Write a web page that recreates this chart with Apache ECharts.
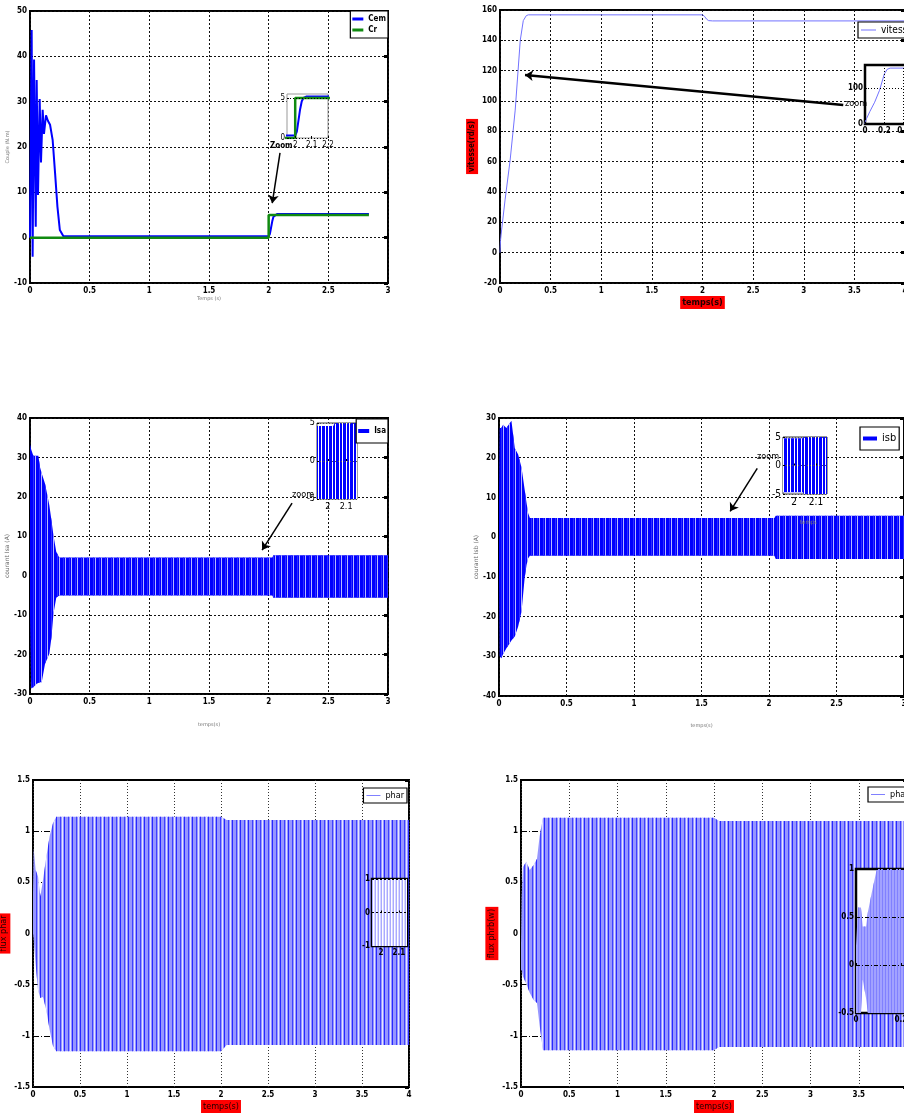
<!DOCTYPE html>
<html>
<head>
<meta charset="utf-8">
<script src="https://cdn.jsdelivr.net/npm/echarts@6/dist/echarts.min.js"></script>
<style>
  html, body { margin: 0; padding: 0; background: #fff; }
  #chart { width: 904px; height: 1120px; }
</style>
</head>
<body>
<div id="chart"></div>
<script>
// ---------- data ----------
// couple (N.m)
const cemT = [0, 0.014, 0.022, 0.034, 0.048, 0.056, 0.067, 0.081, 0.092, 0.106, 0.117, 0.134, 0.15, 0.168, 0.19, 0.21, 0.23, 0.25, 0.28, 2.0, 2.01, 2.02, 2.03, 2.04, 2.05, 2.07, 2.84];
const cemV = [0, 45.8, -4.2, 39.3, 2.4, 34.8, 9.4, 30.6, 16.6, 28.2, 22.9, 27, 25.8, 24.9, 21.5, 14.3, 6.8, 1.7, 0.3, 0.3, 0.8, 2.2, 3.6, 4.6, 5.0, 5.2, 5.2];
const crT = [0, 2.0, 2.0, 2.84];
const crV = [0, 0, 5, 5];
// vitesse (rd/s)
const vitT = [0, 0.005, 0.016, 0.05, 0.1, 0.15, 0.2, 0.23, 0.26, 0.28, 2.0, 2.02, 2.04, 2.06, 2.1, 4.0];
const vitV = [0, 8, 15, 34.8, 61, 94, 140, 153, 156.3, 156.8, 156.8, 155.8, 154, 153, 152.8, 152.8];
// courant Isa : envelope of the oscillation
const isaT  = [0, 0.01, 0.028, 0.056, 0.07, 0.084, 0.098, 0.126, 0.145, 0.162, 0.18, 0.196, 0.22, 0.245, 2.03, 2.04, 3.0];
const isaHi = [33.4, 32, 30.4, 30.4, 30.4, 27.5, 26, 23.3, 20.5, 17.9, 14, 10.3, 6.1, 4.6, 4.6, 5.2, 5.2];
const isaLo = [-10, -28.6, -28.3, -27.4, -27.2, -27, -27, -22.3, -21, -19.8, -15.6, -9.8, -5.6, -5.0, -5.0, -5.6, -5.6];
// courant Isb : envelope
const isbT  = [0, 0.005, 0.017, 0.03, 0.055, 0.075, 0.092, 0.117, 0.142, 0.167, 0.19, 0.204, 0.216, 0.229, 2.04, 2.05, 3.0];
const isbHi = [10, 27.5, 27.5, 28.3, 27.5, 28.5, 29.3, 22.4, 20.8, 17.5, 12, 8.6, 6, 4.8, 4.8, 5.4, 5.4];
const isbLo = [-10, -30, -30.5, -29.5, -28, -27, -26, -25, -22.5, -18.7, -10.3, -7, -5.3, -4.7, -4.7, -5.5, -5.5];
// flux phar : envelope
const pharT  = [0, 0.007, 0.028, 0.053, 0.078, 0.106, 0.142, 0.177, 0.213, 0.248, 2.0, 2.06, 4.0];
const pharHi = [0.4, 0.83, 0.62, 0.56, 0.36, 0.52, 0.75, 0.95, 1.08, 1.14, 1.14, 1.11, 1.11];
const pharLo = [0, -0.05, -0.3, -0.55, -0.63, -0.62, -0.75, -0.94, -1.1, -1.15, -1.15, -1.09, -1.09];
// flux phab : envelope
const phabT  = [0, 0.007, 0.02, 0.055, 0.09, 0.131, 0.166, 0.193, 0.228, 2.0, 2.05, 4.0];
const phabHi = [-0.1, 0.36, 0.65, 0.7, 0.62, 0.67, 0.73, 0.95, 1.13, 1.13, 1.1, 1.1];
const phabLo = [-0.36, -0.36, -0.42, -0.49, -0.58, -0.65, -0.68, -0.9, -1.14, -1.14, -1.11, -1.11];
// phab zoom inset
const phabZoomT  = [0, 0.009, 0.022, 0.03, 0.045, 0.053, 0.07, 0.093, 0.25];
const phabZoomHi = [0.2, 0.6, 0.6, 0.4, 0.4, 0.55, 0.75, 1.0, 1.05];
const phabZoomLo = [-0.5, -0.5, -0.5, -0.15, -0.35, -0.5, -0.5, -0.5, -0.5];

// ---------- helpers ----------
const fam = "'Liberation Sans Narrow','DejaVu Sans Condensed','Liberation Sans',sans-serif";
const chart = echarts.init(document.getElementById('chart'));

function pts(t, v) { return t.map((x, i) => [x, v[i]]); }

// vertical stripes laid over a solid fill, stand for the dense 50 Hz oscillation
const T = 'rgba(0,0,0,0)';
function stripes(cols) {
  const c = document.createElement('canvas');
  c.width = cols.length; c.height = 4;
  const ctx = c.getContext('2d');
  cols.forEach((col, i) => { if (col !== T) { ctx.fillStyle = col; ctx.fillRect(i, 0, 1, 4); } });
  return { image: c, repeat: 'repeat' };
}
const isPat = stripes([T, T, T, '#3030ff', T, '#b8b8ff']);
const isZoomPat = stripes([T, T, T, '#ffffff', T, T, '#ffffff']);
const fluxPat = stripes(['#2828ff', T, T, T, '#4040ff', T, '#e4e4ff', T]);
const fluxZoomPat = stripes([T, '#ffffff', '#d8d8ff']);
const phabZoomPat = stripes(['#8080ff', T, T]);

function band(name, gi, t, lo, hi, base, pat, color, z) {
  const rows = t.map((x, i) => [x, lo[i], hi[i]]);
  return {
    type: 'custom', name, xAxisIndex: gi, yAxisIndex: gi, clip: true, silent: true, z: z || 2,
    itemStyle: { color }, encode: { x: 0, y: [1, 2] }, data: rows,
    renderItem: (params, api) => {
      if (params.dataIndex !== 0) return null;
      const up = rows.map(r => api.coord([r[0], r[2]]));
      const dn = rows.map(r => api.coord([r[0], r[1]])).reverse();
      const poly = up.concat(dn);
      return {
        type: 'group',
        children: [
          { type: 'polygon', shape: { points: poly }, style: { fill: base } },
          { type: 'polygon', shape: { points: poly }, style: { fill: pat } }
        ]
      };
    }
  };
}

function arrow(gi, from, to, w) {
  return {
    type: 'line', xAxisIndex: gi, yAxisIndex: gi, data: [], silent: true, z: 6,
    markLine: {
      silent: true, animation: false, symbol: ['none', 'arrow'], symbolSize: 8,
      label: { show: false }, lineStyle: { color: '#000', width: w, type: 'solid' },
      data: [[{ coord: from }, { coord: to }]]
    }
  };
}

const dotted = { show: true, lineStyle: { color: '#111', width: 1, type: [2, 2] } };
const dashDot = { show: true, lineStyle: { color: '#000', width: 1, type: [6, 2, 1, 2] } };
const tick = { fontFamily: fam, fontSize: 8, fontWeight: 'bold', color: '#000' };

function mainGrid(l, t, w, h) {
  return { left: l, top: t, width: w, height: h, outerBoundsMode: 'none', show: true, borderColor: '#000', borderWidth: 2, backgroundColor: '#fff' };
}
function insetGrid(l, t, w, h, bw, bc) {
  return { left: l, top: t, width: w, height: h, outerBoundsMode: 'none', show: true, borderColor: bc || '#000', borderWidth: bw, backgroundColor: '#fff', z: 20 };
}
function mainX(gi, max, split, name, nameStyle, gap) {
  return {
    type: 'value', gridIndex: gi, min: 0, max, interval: 0.5,
    axisLine: { show: false }, axisTick: { inside: true, length: 3, lineStyle: { color: '#000' } },
    axisLabel: Object.assign({ margin: 4 }, tick), splitLine: split,
    name, nameLocation: 'middle', nameGap: gap, nameTextStyle: nameStyle
  };
}
function mainY(gi, min, max, iv, split, name, nameStyle, gap) {
  return {
    type: 'value', gridIndex: gi, min, max, interval: iv,
    axisLine: { show: false }, axisTick: { inside: true, length: 3, lineStyle: { color: '#000' } },
    axisLabel: Object.assign({ margin: 3 }, tick), splitLine: split,
    name, nameLocation: 'middle', nameGap: gap, nameTextStyle: nameStyle
  };
}
function rightTicks(gi, min, max, iv) {
  return {
    type: 'value', gridIndex: gi, position: 'right', min, max, interval: iv,
    axisLine: { show: false }, axisLabel: { show: false }, splitLine: { show: false },
    axisTick: { inside: true, length: 4, lineStyle: { color: '#000', width: 3 } }
  };
}
function insetX(gi, min, max, vals, size, bold, split) {
  return {
    type: 'value', gridIndex: gi, min, max, z: 22,
    axisLine: { show: false }, axisTick: { show: true, inside: true, length: 2, customValues: vals, lineStyle: { color: '#000' } },
    axisLabel: { customValues: vals, margin: 3, fontFamily: fam, fontSize: size, fontWeight: bold ? 'bold' : 'normal', color: '#000' },
    splitLine: split || { show: false }
  };
}
function insetY(gi, min, max, vals, size, bold, split) {
  return {
    type: 'value', gridIndex: gi, min, max, z: 22,
    axisLine: { show: false }, axisTick: { show: true, inside: true, length: 2, customValues: vals, lineStyle: { color: '#000' } },
    axisLabel: { customValues: vals, margin: 2, fontFamily: fam, fontSize: size, fontWeight: bold ? 'bold' : 'normal', color: '#000' },
    splitLine: split || { show: false }
  };
}
function leg(names, pos, o) {
  return Object.assign({
    data: names, orient: 'vertical', selectedMode: false, itemGap: 3, itemWidth: 11, itemHeight: 3, icon: 'rect',
    borderColor: '#000', borderWidth: 1.2, backgroundColor: '#fff', padding: [4, 2], borderRadius: 0, z: 30,
    textStyle: { fontFamily: fam, fontSize: 8, fontWeight: 'bold', color: '#000' }
  }, pos, o);
}

const grayName = { fontFamily: 'DejaVu Sans', fontSize: 5, color: '#777' };
const grayName6 = { fontFamily: 'DejaVu Sans', fontSize: 6, color: '#666' };
const redName = (bold, size) => ({
  fontFamily: fam, fontSize: size, fontWeight: bold ? 'bold' : 'normal', color: '#200',
  backgroundColor: '#ff0000', padding: [2, 2]
});
const vdots = { show: true, lineStyle: { color: '#333', width: 1, type: [1, 2] } };

// ---------- layout ----------
const grid = [
  mainGrid(30, 11, 358, 272),     // 0 couple
  mainGrid(500, 10, 405, 273),    // 1 vitesse
  mainGrid(30, 418, 358, 276),    // 2 Isa
  mainGrid(499, 418, 405, 278),   // 3 Isb
  mainGrid(33, 780, 376, 307),    // 4 phar
  mainGrid(521, 780, 386, 307),   // 5 phab
  insetGrid(287, 94, 41, 44, 1, '#999'),   // 6
  insetGrid(865, 65, 58, 59, 2.5),         // 7
  insetGrid(317, 423, 40, 76, 1, '#444'),  // 8
  insetGrid(783, 437, 44, 57, 1, '#333'),  // 9
  insetGrid(372, 879, 35, 67, 2.5),        // 10
  insetGrid(856, 869, 56, 144, 2.5)        // 11
];

const xAxis = [
  mainX(0, 3, dotted, 'Temps (s)', grayName, 13),
  mainX(1, 4, dotted, 'temps(s)', redName(true, 9), 10),
  mainX(2, 3, dotted, 'temps(s)', grayName, 28),
  mainX(3, 3, dotted, 'temps(s)', grayName, 27),
  mainX(4, 4, vdots, 'temps(s)', redName(false, 9), 12),
  mainX(5, 4, vdots, 'temps(s)', redName(false, 9), 12),
  insetX(6, 1.95, 2.2, [2, 2.1, 2.2], 8, false),
  Object.assign(insetX(7, 0, 0.6, [0, 0.2, 0.4], 8, true, { show: true, lineStyle: { color: '#000', type: [1, 2] } }), { interval: 0.2 }),
  insetX(8, 1.94, 2.16, [2, 2.1], 9, false),
  insetX(9, 1.95, 2.15, [2, 2.1], 10, false),
  insetX(10, 1.95, 2.145, [2, 2.1], 8, true),
  insetX(11, 0, 0.25, [0, 0.2], 8, true)
];

const yAxis = [
  mainY(0, -10, 50, 10, dotted, 'Couple (N.m)', grayName, 13),
  mainY(1, -20, 160, 20, dotted, 'vitesse(rd/s)', redName(true, 8), 14),
  mainY(2, -30, 40, 10, dotted, 'courant Isa (A)', grayName6, 11),
  mainY(3, -40, 30, 10, dotted, 'courant Isb (A)', grayName6, 18),
  mainY(4, -1.5, 1.5, 0.5, dashDot, 'flux phar', redName(false, 9), 13),
  mainY(5, -1.5, 1.5, 0.5, dashDot, 'flux phrb(w)', redName(false, 9), 13),
  insetY(6, 0, 5.5, [0, 5], 8, false, { show: true, lineStyle: { color: '#000', type: [1, 2] } }),
  insetY(7, 0, 165, [0, 100], 8, true, { show: true, lineStyle: { color: '#000', type: [1, 2] } }),
  Object.assign(insetY(8, -5, 5, [-5, 0, 5], 9, false, { show: true, lineStyle: { color: '#555', type: [1, 2] } }), { interval: 5 }),
  Object.assign(insetY(9, -5, 5, [-5, 0, 5], 10, false, { show: true, lineStyle: { color: '#555', type: [1, 2] } }), { interval: 5 }),
  Object.assign(insetY(10, -1, 1, [-1, 0, 1], 8, true, { show: true, lineStyle: { color: '#000', type: [2, 2] } }), { interval: 1 }),
  Object.assign(insetY(11, -0.5, 1, [-0.5, 0, 0.5, 1], 8, true, { show: true, lineStyle: { color: '#000', type: [4, 2, 1, 2] } }), { interval: 0.5 }),
  rightTicks(0, -10, 50, 10),
  rightTicks(1, -20, 160, 20),
  rightTicks(2, -30, 40, 10),
  rightTicks(3, -40, 30, 10),
  rightTicks(4, -1.5, 1.5, 0.5),
  rightTicks(5, -1.5, 1.5, 0.5)
];

const series = [
  // couple
  { name: 'Cem', type: 'line', xAxisIndex: 0, yAxisIndex: 0, data: pts(cemT, cemV), showSymbol: false, lineStyle: { color: '#0000ff', width: 2 }, itemStyle: { color: '#0000ff' }, clip: true },
  { name: 'Cr', type: 'line', xAxisIndex: 0, yAxisIndex: 0, data: pts(crT, crV), showSymbol: false, lineStyle: { color: '#108a10', width: 2.5 }, itemStyle: { color: '#108a10' }, clip: true },
  { name: 'Cem', type: 'line', xAxisIndex: 6, yAxisIndex: 6, z: 21, data: pts(cemT, cemV), showSymbol: false, lineStyle: { color: '#0000ff', width: 2 }, clip: true,
    markLine: { silent: true, symbol: 'none', label: { show: false }, lineStyle: { color: '#000', width: 1, type: [1, 2] }, data: [{ xAxis: 2.1 }] } },
  { name: 'Cr', type: 'line', xAxisIndex: 6, yAxisIndex: 6, z: 21, data: pts(crT, crV), showSymbol: false, lineStyle: { color: '#108a10', width: 2.5 }, clip: true },
  arrow(0, [2.095, 18.7], [2.03, 7.6], 1.5),
  // vitesse
  { name: 'vitesse', type: 'line', xAxisIndex: 1, yAxisIndex: 1, data: pts(vitT, vitV), showSymbol: false, lineStyle: { color: '#7272ff', width: 1 }, itemStyle: { color: '#7272ff' }, clip: true },
  { name: 'vitesse', type: 'line', xAxisIndex: 7, yAxisIndex: 7, z: 21, data: pts(vitT, vitV), showSymbol: false, lineStyle: { color: '#7272ff', width: 1 }, clip: true },
  arrow(1, [3.39, 97.4], [0.247, 117.2], 2.5),
  // Isa
  band('Isa', 2, isaT, isaLo, isaHi, '#0000ff', isPat, '#0000ff'),
  band('Isa', 8, isaT, isaLo, isaHi, '#0000ff', isZoomPat, '#0000ff', 21),
  arrow(2, [2.196, 18.4], [1.945, 6.5], 1.5),
  // Isb
  band('isb', 3, isbT, isbLo, isbHi, '#0000ff', isPat, '#0000ff'),
  band('isb', 9, isbT, isbLo, isbHi, '#0000ff', isZoomPat, '#0000ff', 21),
  arrow(3, [1.913, 17.3], [1.712, 6.5], 1.5),
  // phar
  band('phar', 4, pharT, pharLo, pharHi, '#9696ff', fluxPat, '#8080ff'),
  band('phar', 10, pharT, pharLo, pharHi, '#aaaaff', fluxZoomPat, '#8080ff', 21),
  // phab
  band('phab', 5, phabT, phabLo, phabHi, '#9696ff', fluxPat, '#8080ff'),
  band('phab', 11, phabZoomT, phabZoomLo, phabZoomHi, '#a2a2ff', phabZoomPat, '#8080ff', 21)
];

const legend = [
  leg(['Cem', 'Cr'], { right: 516, top: 11 }, { itemHeight: 3 }),
  leg(['vitesse'], { left: 858, top: 22 }, { itemWidth: 15, itemHeight: 1, padding: [3, 3], textStyle: { fontFamily: fam, fontSize: 10, color: '#000' } }),
  leg(['Isa'], { right: 516, top: 419 }, { itemHeight: 4, padding: [8, 2] }),
  leg(['isb'], { left: 860, top: 427 }, { itemWidth: 14, itemHeight: 4, padding: [6, 3], textStyle: { fontFamily: fam, fontSize: 11, color: '#000' } }),
  leg(['phar'], { right: 497, top: 788 }, { itemWidth: 14, itemHeight: 1, padding: [3, 3], textStyle: { fontFamily: fam, fontSize: 9, color: '#000' } }),
  leg(['phab'], { left: 868, top: 787 }, { itemWidth: 14, itemHeight: 1, padding: [3, 3], textStyle: { fontFamily: fam, fontSize: 9, color: '#000' } })
];

const txt = (x, y, s, size, bold, color) => ({
  type: 'text', left: x, top: y, z: 100,
  style: { text: s, fontFamily: fam, fontSize: size, fontWeight: bold ? 'bold' : 'normal', fill: color || '#000' }
});

chart.setOption({
  animation: false,
  textStyle: { fontFamily: fam },
  grid, xAxis, yAxis, series, legend,
  graphic: [
    txt(270, 142, 'Zoom', 8, true),
    txt(845, 99, 'zoom', 9, false),
    txt(292, 490, 'zoom', 9, false),
    txt(757, 452, 'zoom', 9, false),
    txt(800, 519, 'temps', 6, false, '#777')
  ]
});
</script>
</body>
</html>
